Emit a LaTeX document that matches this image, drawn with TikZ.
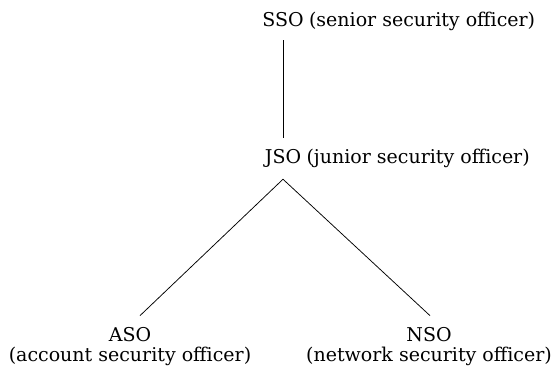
\documentclass[tikz,border=0pt]{standalone}
\usepackage{fontspec}
\setmainfont{DejaVu Serif}
\usetikzlibrary{positioning}

\begin{document}
\begin{tikzpicture}[
  x=1pt, y=-1pt,
  font=\fontsize{19}{20}\selectfont,
  role/.style={inner sep=0pt},
  longname/.style={inner sep=0pt, anchor=base west},
  leaf/.style={inner sep=0pt, align=center},
  link/.style={line width=0.75pt}
]
\useasboundingbox (0,0) rectangle (559,368);

\node[role] (sso) at (283,20) {SSO};
\node[longname] (ssofull) at ([xshift=5pt]sso.base east) {(senior security officer)};

\node[role] (jso) at (283,158) {JSO};
\node[longname] (jsofull) at ([xshift=5pt]jso.base east) {(junior security officer)};

\node[leaf] (aso) at (130,347) {ASO\\(account security officer)};
\node[leaf] (nso) at (429,347) {NSO\\(network security officer)};

\draw[link] ([yshift=-13pt]sso.south) -- ([yshift=11pt]jso.north);
\draw[link] ([yshift=-12pt]jso.south) -- ([xshift=10pt,yshift=12pt]aso.north);
\draw[link] ([yshift=-12pt]jso.south) -- ([xshift=1pt,yshift=12pt]nso.north);

\end{tikzpicture}
\end{document}
